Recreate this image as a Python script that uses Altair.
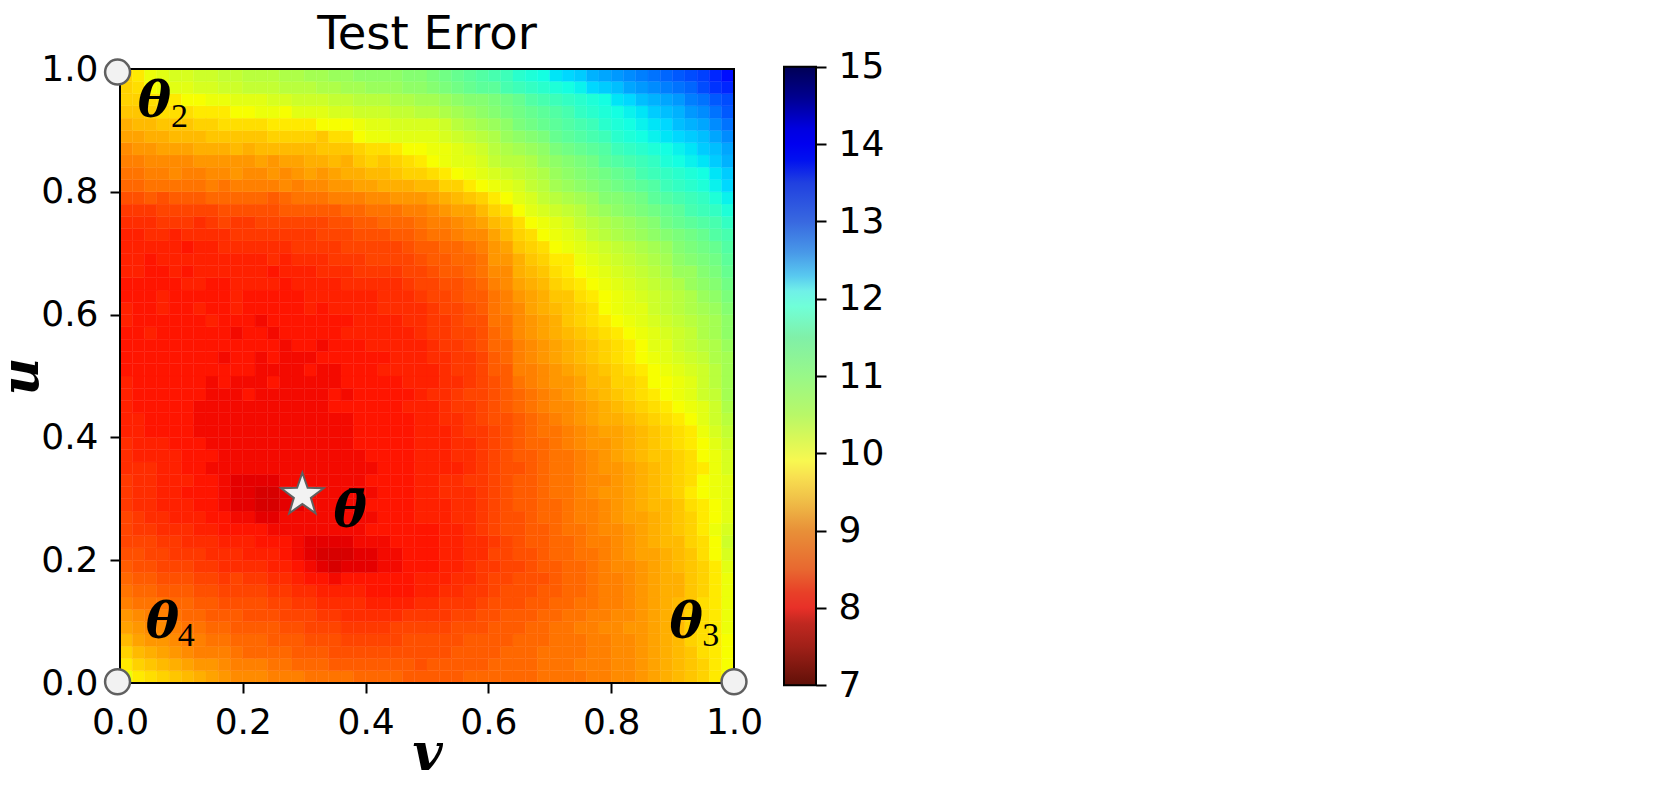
import altair as alt
import pandas as pd

# Test error, in tenths, top row (u near 1) first
row_49 = [95,97,99,100,101,101,102,102,103,103,104,104,104,105,105,106,106,107,107,108,108,108,108,109,109,110,111,112,113,114,115,116,118,119,120,122,123,124,126,127,128,129,130,131,132,133,134,135,137,139]
row_48 = [95,96,98,99,100,100,101,101,102,102,103,103,103,104,104,104,105,105,106,106,107,107,107,108,108,109,110,111,112,113,113,115,116,117,118,119,120,121,123,124,125,127,128,129,130,131,132,134,136,137]
row_47 = [95,95,96,96,97,98,98,99,99,100,100,100,101,101,102,102,102,103,103,104,104,104,105,105,106,106,107,108,109,109,110,111,112,114,115,116,117,118,119,120,122,123,125,126,127,128,130,131,133,134]
row_46 = [94,94,95,96,96,96,97,97,97,98,98,99,99,98,100,100,100,101,101,102,102,102,103,103,104,104,105,106,107,108,109,110,111,112,113,114,115,117,118,119,120,121,122,124,125,126,128,129,131,133]
row_45 = [92,93,93,94,94,94,95,95,96,96,96,96,97,97,97,97,98,98,98,99,100,100,101,101,101,101,102,104,105,106,107,108,110,111,112,113,114,115,116,118,119,120,121,122,123,125,126,127,129,131]
row_44 = [91,91,92,92,93,93,93,94,94,94,94,94,95,95,95,95,94,96,96,98,99,99,100,100,100,100,101,102,103,104,105,107,108,109,110,112,113,114,115,116,118,119,120,121,122,123,124,125,127,129]
row_43 = [89,90,90,91,91,91,92,92,92,93,92,93,93,93,93,93,94,94,94,95,96,96,97,98,98,99,99,100,101,102,104,105,106,107,108,110,111,112,113,114,116,117,118,119,120,121,122,124,125,127]
row_42 = [88,88,89,89,89,89,90,90,90,90,90,91,90,91,91,92,92,93,92,94,95,94,95,96,97,98,99,100,100,101,103,104,104,105,107,108,109,110,111,113,114,115,116,117,119,120,121,122,124,126]
row_41 = [87,87,88,88,89,88,88,89,89,90,89,89,90,89,90,91,90,91,92,92,93,93,94,95,95,96,97,98,99,100,101,102,103,104,105,107,108,109,110,111,112,113,115,116,117,118,119,120,122,124]
row_40 = [86,86,87,87,87,87,87,88,87,88,88,88,88,89,88,89,89,90,90,91,91,92,92,92,93,93,95,95,97,98,99,100,101,103,104,106,107,108,109,110,111,112,113,114,116,117,118,119,121,123]
row_39 = [84,84,85,84,85,85,85,86,86,86,86,86,85,86,87,87,87,88,88,88,89,89,90,90,90,91,92,93,94,95,97,98,100,101,103,104,105,106,107,109,109,110,111,113,114,115,116,117,119,121]
row_38 = [82,82,82,83,83,83,83,83,84,84,84,84,84,85,85,85,85,85,86,86,87,87,87,88,88,89,90,91,91,93,95,96,98,100,101,102,103,104,106,107,108,109,110,111,112,113,115,116,117,119]
row_37 = [81,81,81,82,82,82,81,82,83,82,82,83,83,83,83,83,83,84,84,85,85,86,86,86,87,88,88,89,90,91,93,94,96,98,99,100,101,103,104,105,106,107,108,109,111,112,113,114,115,117]
row_36 = [80,80,81,81,80,81,81,81,81,82,82,82,82,82,82,82,83,83,83,84,84,84,85,85,86,87,87,88,89,89,91,93,95,96,98,99,100,101,103,104,105,106,107,108,109,110,111,112,114,115]
row_35 = [80,80,80,80,80,79,80,80,81,81,81,81,81,81,82,82,82,82,83,83,83,83,83,84,85,85,86,86,87,88,90,91,94,95,96,98,99,100,101,102,103,104,105,106,107,109,110,111,112,114]
row_34 = [80,80,79,80,80,80,80,80,80,80,80,80,81,80,81,81,81,82,82,82,83,83,83,83,84,85,85,86,86,87,90,90,92,94,95,97,97,99,100,101,102,103,104,105,106,108,109,110,111,113]
row_33 = [80,80,79,79,80,79,80,80,80,80,80,80,79,80,80,80,81,81,81,82,82,82,82,83,83,84,85,85,86,87,89,89,92,93,94,96,97,98,99,100,101,102,103,104,105,107,107,109,110,112]
row_32 = [79,79,79,79,79,80,80,79,79,80,80,80,80,79,80,80,80,80,81,81,81,81,81,82,83,83,84,84,85,86,88,89,91,92,93,95,96,97,98,99,100,101,102,103,104,105,107,108,109,111]
row_31 = [79,79,79,80,79,79,79,79,79,80,79,79,79,79,79,80,80,80,80,80,80,81,81,81,82,83,83,84,85,85,87,88,90,91,92,94,94,96,97,98,99,100,101,102,103,104,105,107,108,110]
row_30 = [80,79,79,80,79,79,80,79,79,80,79,79,79,79,79,80,79,80,80,80,80,81,81,81,81,82,83,83,84,85,87,88,89,91,92,93,94,95,96,98,99,100,100,102,103,104,105,106,107,109]
row_29 = [80,79,79,79,79,79,79,80,79,79,79,78,79,79,79,79,79,79,79,80,80,80,80,81,81,82,82,83,84,84,87,87,89,90,91,92,94,95,96,97,98,99,100,101,102,103,104,105,106,108]
row_28 = [79,79,80,79,79,79,79,79,79,78,79,79,78,79,79,79,79,79,80,80,80,80,80,80,81,82,82,83,83,84,86,87,89,90,91,92,93,94,95,96,97,98,99,100,101,102,103,105,106,108]
row_27 = [79,79,79,79,79,79,79,79,79,79,79,79,79,78,79,79,78,79,79,79,80,80,80,80,80,81,82,82,83,84,86,86,88,89,90,91,92,93,94,95,96,97,98,100,100,102,103,104,105,107]
row_26 = [79,79,79,79,79,79,79,79,78,79,79,78,79,78,78,78,79,79,79,79,79,79,80,80,80,81,81,82,82,83,85,86,88,89,90,91,92,93,94,95,96,97,98,99,100,101,102,103,105,106]
row_25 = [79,79,79,79,79,79,79,79,79,79,79,78,78,78,78,79,78,78,79,79,79,80,80,80,80,80,81,82,82,83,85,85,88,88,89,90,91,92,93,94,95,96,97,98,99,100,101,102,104,106]
row_24 = [80,79,79,79,79,79,79,78,79,78,78,78,79,78,78,78,78,78,79,79,79,79,79,80,80,80,81,81,82,83,84,85,87,88,89,90,90,91,93,93,95,95,96,98,98,99,100,102,104,106]
row_23 = [80,79,79,79,79,79,79,78,78,78,79,78,78,78,78,78,78,79,78,79,79,79,79,79,80,81,81,82,83,83,84,85,86,87,88,89,90,91,92,93,94,95,96,97,98,99,100,102,103,106]
row_22 = [80,79,79,79,79,79,78,78,78,78,78,78,78,78,78,78,78,79,79,79,79,79,79,80,80,80,81,82,82,83,84,85,86,87,88,89,89,90,91,92,93,94,95,96,97,98,99,100,102,105]
row_21 = [80,80,79,79,79,79,78,78,78,78,78,78,78,78,78,78,78,78,78,79,79,79,79,79,80,80,81,81,82,83,84,84,85,86,87,88,89,90,91,92,92,93,94,95,96,97,98,100,102,104]
row_20 = [80,80,79,79,79,79,78,78,78,78,78,78,78,78,78,78,78,78,78,79,79,79,79,79,80,80,80,81,82,82,83,84,85,86,87,87,88,89,90,91,91,92,93,94,95,96,97,99,101,103]
row_19 = [81,80,80,80,79,79,79,78,78,78,78,78,78,78,78,78,78,78,78,79,79,79,79,79,80,80,80,81,81,82,83,84,85,86,86,87,88,89,90,90,91,92,93,94,95,96,97,98,100,102]
row_18 = [81,80,80,80,80,79,79,79,78,78,78,78,78,78,78,78,78,78,78,78,79,79,79,79,80,80,80,81,81,82,83,84,85,85,86,87,87,88,89,90,91,92,93,94,94,95,96,98,99,101]
row_17 = [81,81,81,80,80,79,79,78,78,78,78,78,78,78,78,78,78,78,78,78,78,79,79,79,80,80,80,80,81,82,83,84,84,85,86,87,87,88,89,90,90,91,92,93,94,95,96,97,99,101]
row_16 = [82,81,81,80,80,80,79,79,78,77,77,77,77,78,78,78,78,78,78,78,79,79,79,79,80,80,81,81,82,82,83,84,85,85,86,87,87,88,89,89,90,91,92,93,94,95,96,98,99,100]
row_15 = [82,81,81,80,80,79,79,79,78,77,77,76,76,77,77,78,78,78,78,78,78,79,79,79,80,80,81,81,81,82,83,84,85,85,86,87,87,88,89,90,90,91,92,93,94,95,97,98,99,100]
row_14 = [82,81,81,80,80,80,79,79,78,77,77,76,76,77,77,78,78,78,78,78,79,79,79,79,80,80,80,81,81,82,83,84,85,85,86,86,87,88,88,89,90,91,92,93,93,94,96,97,98,100]
row_13 = [83,82,81,81,80,80,80,79,79,78,78,77,77,78,78,78,78,78,78,78,78,79,79,79,80,80,80,81,81,82,83,84,84,85,86,86,87,88,88,89,90,91,91,92,93,94,95,97,98,100]
row_12 = [83,82,82,81,81,81,80,80,79,79,79,79,78,78,78,78,78,78,78,78,79,79,79,79,79,79,80,80,81,82,83,84,84,85,85,86,87,87,88,89,89,90,91,92,93,94,95,97,99,101]
row_11 = [83,83,83,82,82,81,81,81,80,80,80,79,79,79,78,77,77,77,77,78,78,78,79,79,79,79,80,80,81,81,82,83,84,85,85,86,86,87,88,88,89,90,91,92,93,93,95,96,98,102]
row_10 = [84,84,83,83,82,82,82,81,81,81,80,80,80,79,78,77,76,76,76,77,77,78,78,79,79,79,80,80,81,81,83,83,84,84,85,86,86,87,87,88,89,90,91,91,92,93,94,96,98,101]
row_09 = [85,84,84,83,83,83,82,82,81,81,81,81,80,80,79,78,77,76,77,77,77,78,78,79,79,79,80,80,81,82,82,83,83,84,85,85,86,86,87,88,89,89,90,91,92,93,94,95,97,100]
row_08 = [86,85,85,84,84,84,83,83,82,83,82,82,81,81,80,79,79,78,79,79,79,79,79,79,80,80,80,81,81,82,83,83,84,84,84,85,86,86,87,88,88,89,90,91,92,92,94,95,97,99]
row_07 = [87,86,86,85,85,85,84,84,83,83,83,83,82,82,81,81,80,80,80,80,79,79,79,79,80,80,81,81,82,82,83,84,84,84,85,85,86,86,87,88,88,89,90,91,92,92,94,95,97,99]
row_06 = [88,87,87,87,86,86,85,85,84,84,84,84,83,83,82,82,81,81,81,81,80,80,80,80,81,81,82,82,82,83,84,84,84,85,85,86,86,87,87,88,88,89,90,91,92,93,94,96,97,99]
row_05 = [90,89,88,88,87,86,86,85,85,85,84,84,84,83,83,83,82,82,81,81,81,81,81,82,82,82,82,83,83,84,84,85,85,85,86,86,87,87,88,88,89,89,90,91,92,93,95,96,97,99]
row_04 = [91,90,89,89,88,87,87,86,86,85,85,85,85,84,84,83,83,83,82,82,82,82,83,83,83,83,83,84,84,84,85,85,85,86,86,87,87,88,88,89,89,90,90,91,92,93,95,96,97,99]
row_03 = [93,91,90,90,89,88,88,87,87,86,86,86,85,85,85,84,84,84,83,83,83,83,83,84,84,84,84,84,85,85,85,85,86,86,86,87,87,87,88,88,89,89,90,91,92,93,95,96,97,98]
row_02 = [95,93,92,91,90,89,88,88,88,87,86,86,86,86,85,85,85,84,84,84,84,84,84,84,84,84,84,85,85,85,85,86,86,86,87,87,87,87,88,88,89,89,90,91,92,93,94,96,97,98]
row_01 = [97,95,94,93,92,91,90,90,89,88,88,88,87,87,86,86,86,85,85,85,85,85,85,85,84,85,85,85,85,85,86,86,86,86,87,87,87,88,88,88,89,89,90,91,92,93,94,95,97,98]
row_00 = [99,97,96,95,94,93,92,91,90,89,89,89,88,88,88,87,87,87,87,86,86,86,86,85,85,85,85,85,86,86,86,86,86,86,87,87,87,87,88,88,89,89,90,91,92,93,94,95,97,98]

rows = [row_00,row_01,row_02,row_03,row_04,row_05,row_06,row_07,row_08,row_09,
        row_10,row_11,row_12,row_13,row_14,row_15,row_16,row_17,row_18,row_19,
        row_20,row_21,row_22,row_23,row_24,row_25,row_26,row_27,row_28,row_29,
        row_30,row_31,row_32,row_33,row_34,row_35,row_36,row_37,row_38,row_39,
        row_40,row_41,row_42,row_43,row_44,row_45,row_46,row_47,row_48,row_49]

ticks = [0.0, 0.2, 0.4, 0.6, 0.8, 1.0]
bar_ticks = [7, 8, 9, 10, 11, 12, 13, 14, 15]

# reversed jet, values 7..15
jet_domain = [7, 7.72, 7.88, 9.72, 9.8, 9.88, 12, 12.2, 12.28, 14, 14.12, 15]
jet_range = ["#7f0000", "#e80000", "#ff1300", "#ffec00", "#f7ff00", "#eeff08",
             "#14ffe2", "#00e5f7", "#00dbff", "#0000ff", "#0000ff", "#00007f"]

# colours of the (paler) colour bar as drawn in the picture, bottom to top
bar_values = [7, 7.5, 7.8, 8, 8.2, 8.5, 9, 9.4, 9.7, 9.9, 10.2, 10.5, 11, 11.5, 11.9, 12.1, 12.3, 12.6, 13, 13.5, 13.8, 14, 14.2, 14.6, 15]
bar_colors = ["#601008", "#a02018", "#c02820", "#e83028", "#e84028", "#e86830", "#e89038", "#f0c048", "#f8e050", "#f8f850",
              "#d8f858", "#b8f868", "#98f888", "#80f0a8", "#70ffd8", "#70f0e8", "#58c8f0", "#4898e8", "#3868e0", "#2040e0",
              "#0010f0", "#0000f0", "#0000e0", "#000090", "#000055"]

corner_v = [-0.004, -0.004, 1.0]
corner_u = [0.995, 0.002, 0.002]
star_v = [0.297]
star_u = [0.306]
theta_text = ["θ", "θ", "θ", "θ\u0304"]
theta_v = [0.056, 0.922, 0.069, 0.375]
theta_u = [0.946, 0.098, 0.097, 0.279]
sub_text = ["2", "3", "4"]
sub_v = [0.097, 0.962, 0.108]
sub_u = [0.922, 0.077, 0.076]

cells = pd.DataFrame(
    [{"v0": j / 50, "v1": (j + 1) / 50, "u0": i / 50, "u1": (i + 1) / 50, "err": val / 10}
     for i, row in enumerate(rows) for j, val in enumerate(row)]
)

xs = alt.Scale(domain=[0, 1], nice=False, zero=False)
ys = alt.Scale(domain=[0, 1], nice=False, zero=False)
NUM = dict(labelFont="DejaVu Sans", labelFontSize=36, labelColor="black", labelPadding=12,
           tickSize=10, tickWidth=2, tickColor="black", domain=False, grid=False, labelFlush=False)
TITLE = dict(titleFont="DejaVu Serif", titleFontSize=52, titleFontStyle="italic",
             titleFontWeight="bold", titleColor="black")


def px(field):
    return alt.X(field, scale=xs, title="v",
                 axis=alt.Axis(values=ticks, format=".1f", titlePadding=-12, **NUM, **TITLE))


def py(field):
    return alt.Y(field, scale=ys, title="u",
                 axis=alt.Axis(values=ticks, format=".1f", titlePadding=-8, **NUM, **TITLE))


color_scale = alt.Scale(domain=jet_domain, range=jet_range, interpolate="rgb", clamp=True)
heat = alt.Chart(cells).mark_rect(strokeWidth=0.4).encode(
    x=px("v0:Q"), x2="v1:Q", y=py("u0:Q"), y2="u1:Q",
    color=alt.Color("err:Q", scale=color_scale, legend=None),
    stroke=alt.Stroke("err:Q", scale=color_scale, legend=None),
)

frame = alt.Chart(pd.DataFrame({"a": [0], "b": [1]})).mark_rect(
    filled=False, stroke="black", strokeWidth=2, fillOpacity=0
).encode(x=px("a:Q"), x2="b:Q", y=py("a:Q"), y2="b:Q")

corners = alt.Chart(pd.DataFrame({"v": corner_v, "u": corner_u})).mark_point(
    shape="circle", filled=True, fill="#f2f2f2", stroke="#606060", strokeWidth=2.5,
    size=620, opacity=1, clip=False
).encode(x=px("v:Q"), y=py("u:Q"))

star = alt.Chart(pd.DataFrame({"v": star_v, "u": star_u})).mark_point(
    shape="M0,-1L0.235,-0.324L0.951,-0.309L0.38,0.124L0.588,0.809L0,0.4L-0.588,0.809L-0.38,0.124L-0.951,-0.309L-0.235,-0.324Z",
    filled=True, fill="#f2f2f2", stroke="#606060", strokeWidth=2, size=2000, opacity=1
).encode(x=px("v:Q"), y=py("u:Q"))

thetas = alt.Chart(pd.DataFrame({"v": theta_v, "u": theta_u, "t": theta_text})).mark_text(
    font="DejaVu Serif", fontSize=50, fontStyle="italic", fontWeight="bold", color="black",
    align="center", baseline="middle"
).encode(x=px("v:Q"), y=py("u:Q"), text="t:N")

subs = alt.Chart(pd.DataFrame({"v": sub_v, "u": sub_u, "t": sub_text})).mark_text(
    font="Liberation Serif", fontSize=34, color="black", align="center", baseline="middle"
).encode(x=px("v:Q"), y=py("u:Q"), text="t:N")

main = alt.layer(heat, frame, corners, star, thetas, subs).properties(
    width=614, height=614,
    title=alt.TitleParams("Test Error", font="DejaVu Sans", fontSize=46.5, fontWeight="normal",
                          color="black", anchor="middle", offset=-7),
)

span = (bar_values[-1] - bar_values[0])
gradient = alt.LinearGradient(
    gradient="linear", x1=0, x2=0, y1=1, y2=0,
    stops=[alt.GradientStop(offset=(val - bar_values[0]) / span, color=col)
           for val, col in zip(bar_values, bar_colors)],
)
bar = alt.Chart(pd.DataFrame({"lo": [7], "hi": [15]})).mark_rect(
    color=gradient, stroke="black", strokeWidth=2, clip=False
).encode(
    y=alt.Y("lo:Q", scale=alt.Scale(domain=[7, 15], range=[616.3, -2.3], nice=False, zero=False), title=None,
            axis=alt.Axis(orient="right", values=bar_ticks, format="d", **NUM)),
    y2="hi:Q",
).properties(width=32, height=614)

chart = alt.hconcat(main, bar, spacing=20).resolve_scale(color="independent").configure_view(
    stroke=None
).properties(padding={"left": -13, "top": 3, "right": 5, "bottom": 5}, background="white")

chart.save("out.html", embed_options={"renderer": "svg", "actions": False})
